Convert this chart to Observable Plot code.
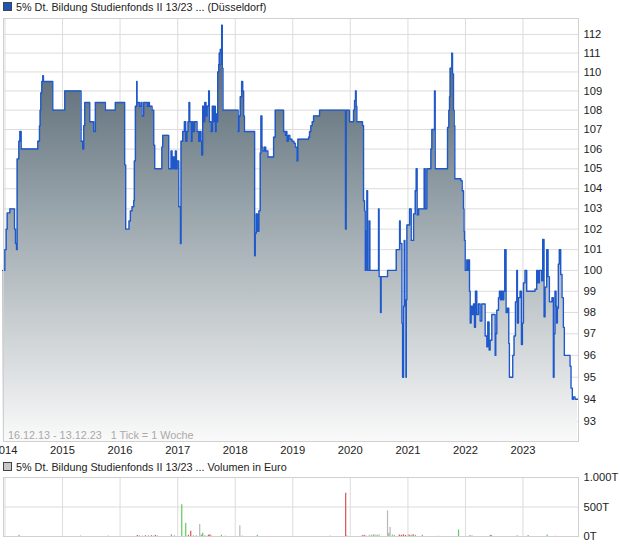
<!DOCTYPE html>
<html>
<head>
<meta charset="utf-8">
<script src="https://cdn.jsdelivr.net/npm/d3@7"></script>
<script src="https://cdn.jsdelivr.net/npm/@observablehq/plot@0.6"></script>
<style>
  html, body { margin: 0; padding: 0; background: #fff; }
  body { width: 620px; height: 546px; position: relative; overflow: hidden;
         font-family: "Liberation Sans", Arial, sans-serif; font-size: 11px; color: #222; }
  .ttl { position: absolute; left: 3px; white-space: pre; line-height: 14px; font-size: 10.8px; }
  .sq { display: inline-block; width: 7px; height: 7px; border: 1px solid #444; vertical-align: 0px; margin-right: 4px; }
  #price, #vol { position: absolute; left: 0; }
  #price { top: 18px; }
  #vol { top: 470px; }
  #cap { position: absolute; left: 8px; top: 428px; color: #a9a9a9; white-space: pre; font-size: 10.8px; line-height: 14px; }
</style>
</head>
<body>
<div class="ttl" style="top:0px"><span class="sq" style="background:#1c54b8"></span>5% Dt. Bildung Studienfonds II 13/23 ... (Düsseldorf)</div>
<div id="price"></div>
<div id="cap">16.12.13 - 13.12.23   1 Tick = 1 Woche</div>
<div class="ttl" style="top:460px"><span class="sq" style="background:#c8c8c8"></span>5% Dt. Bildung Studienfonds II 13/23 ... Volumen in Euro</div>
<div id="vol"></div>
<script>
// ---- data (dates as decimal years) ----
const priceT = [
2013.958,2013.997,2014.020,2014.038,2014.084,2014.165,2014.182,2014.200,2014.211,2014.240,2014.258,2014.281,
2014.570,2014.599,2014.611,2014.622,2014.640,2014.657,2014.668,2014.830,2015.039,2015.322,2015.351,2015.369,
2015.386,2015.473,2015.542,2015.571,2015.745,2015.918,2016.080,2016.098,2016.156,2016.179,2016.208,2016.237,
2016.248,2016.266,2016.289,2016.295,2016.335,2016.365,2016.381,2016.410,2016.470,2016.490,2016.509,2016.555,
2016.584,2016.601,2016.725,2016.740,2016.844,2016.885,2016.902,2016.920,2016.940,2016.960,2016.975,2016.990,
2017.018,2017.047,2017.058,2017.087,2017.116,2017.139,2017.162,2017.180,2017.197,2017.209,2017.232,2017.249,
2017.266,2017.290,2017.336,2017.365,2017.382,2017.405,2017.417,2017.434,2017.452,2017.470,2017.492,2017.510,
2017.538,2017.550,2017.579,2017.602,2017.625,2017.643,2017.654,2017.668,2017.683,2017.695,2017.712,2017.723,
2017.741,2017.752,2017.764,2017.775,2017.787,2018.050,2018.065,2018.088,2018.111,2018.130,2018.146,2018.160,
2018.337,2018.348,2018.366,2018.389,2018.412,2018.435,2018.447,2018.464,2018.481,2018.510,2018.530,2018.568,
2018.667,2018.696,2018.841,2018.870,2018.885,2018.898,2018.922,2018.950,2018.985,2019.020,2019.043,2019.072,
2019.089,2019.275,2019.292,2019.315,2019.339,2019.362,2019.466,2019.917,2019.929,2019.987,2020.056,2020.074,
2020.091,2020.103,2020.114,2020.212,2020.230,2020.247,2020.259,2020.275,2020.288,2020.300,2020.328,2020.340,
2020.490,2020.500,2020.525,2020.535,2020.646,2020.797,2020.855,2020.866,2020.895,2020.907,2020.924,2020.936,
2020.947,2020.965,2020.971,2020.982,2021.028,2021.057,2021.098,2021.127,2021.144,2021.160,2021.185,2021.283,
2021.300,2021.329,2021.399,2021.416,2021.462,2021.474,2021.688,2021.711,2021.723,2021.734,2021.763,2021.775,
2021.792,2021.804,2021.815,2021.920,2021.943,2021.966,2021.975,2021.983,2021.995,2022.024,2022.041,2022.053,
2022.070,2022.082,2022.099,2022.116,2022.139,2022.157,2022.174,2022.197,2022.226,2022.255,2022.284,2022.342,
2022.371,2022.388,2022.411,2022.429,2022.458,2022.516,2022.527,2022.545,2022.574,2022.591,2022.608,2022.626,
2022.649,2022.666,2022.683,2022.706,2022.730,2022.753,2022.764,2022.822,2022.845,2022.869,2022.892,2022.903,
2022.921,2022.950,2022.973,2022.990,2023.008,2023.036,2023.065,2023.210,2023.239,2023.262,2023.285,2023.326,
2023.343,2023.366,2023.384,2023.413,2023.436,2023.459,2023.505,2023.528,2023.540,2023.557,2023.575,2023.586,
2023.598,2023.615,2023.632,2023.656,2023.679,2023.702,2023.719,2023.818,2023.835,2023.858,2023.876,2023.905,
2023.951
];
const priceV = [
100.0,101.0,102.0,102.8,103.0,102.0,101.3,101.0,105.5,106.4,106.9,106.0,
106.4,107.2,108.0,108.9,109.5,109.8,109.5,108.0,109.0,106.4,106.0,107.2,
108.4,107.4,106.9,108.4,108.0,108.4,105.2,102.0,102.4,102.9,103.1,103.4,
105.4,108.2,109.5,108.4,108.2,108.4,107.7,108.4,108.2,108.4,108.2,108.0,
106.2,105.0,106.1,106.7,105.0,105.9,105.0,105.6,105.0,105.9,105.0,105.4,
103.1,101.3,106.4,106.9,107.4,106.4,106.9,107.4,108.4,107.4,106.4,107.4,
106.9,107.4,106.9,106.4,106.9,106.4,105.7,108.2,107.4,108.4,107.7,108.2,
109.0,107.4,106.9,108.2,107.4,108.2,106.9,107.8,107.4,110.0,110.4,111.0,
111.2,110.4,112.5,110.2,108.0,106.9,107.7,108.7,109.5,109.0,107.7,106.9,
100.7,101.8,102.75,101.9,102.9,105.8,107.7,106.1,105.9,106.1,105.9,105.6,
106.6,108.0,106.9,106.7,106.9,106.4,106.7,106.5,106.4,106.3,106.1,105.4,
106.5,106.6,106.9,107.2,107.4,107.7,108.0,102.0,108.0,107.4,108.0,108.5,
109.0,108.2,107.4,107.2,103.4,102.9,100.0,101.9,103.9,100.0,102.4,100.0,
103.0,99.7,98.0,99.7,100.0,101.0,102.4,101.3,97.5,95.0,98.3,101.45,
98.3,95.0,98.6,102.2,103.0,101.45,102.75,103.9,105.0,102.7,103.0,105.0,
103.0,105.0,106.0,107.0,109.0,105.0,107.1,108.0,108.7,110.2,111.0,109.9,
108.0,107.2,104.5,104.4,103.9,103.0,101.9,101.45,100.0,100.5,100.0,100.5,
99.0,97.5,98.3,97.9,98.4,97.3,99.0,97.9,98.4,97.6,98.4,96.9,
96.4,97.55,96.25,96.7,97.9,96.0,97.0,98.1,98.7,99.0,98.6,99.0,
98.6,99.0,101.0,98.0,98.2,96.55,95.0,96.0,96.9,98.5,100.0,97.5,
98.7,99.0,96.5,97.5,99.4,100.0,99.0,99.1,100.0,99.4,100.0,99.5,
101.5,97.8,99.2,101.0,99.7,98.5,98.7,95.0,97.0,99.0,98.3,97.5,
98.2,100.3,101.0,99.8,98.7,97.3,96.0,95.5,94.5,94.0,94.1,94.0,
94.0
];
// volume in thousand euro; colour class: g = up, r = down, n = unchanged
const volT = [2014.245,2015.311,2015.797,2016.300,2016.335,2016.387,2016.440,2016.490,2016.543,2016.578,2016.613,2016.648,
2016.890,2016.940,2017.070,2017.139,2017.186,2017.226,2017.273,2017.325,2017.382,2017.410,2017.434,2017.472,2017.533,2017.560,
2017.585,2017.759,2017.830,2018.080,2018.123,2018.384,2019.650,2019.920,2019.945,2020.207,2020.240,2020.270,2020.330,2020.365,
2020.400,2020.430,2020.465,2020.500,2020.646,2020.670,2020.690,2020.730,2020.765,2020.850,2020.885,2020.920,2020.955,2020.990,
2021.020,2021.055,2021.090,2021.130,2021.250,2021.530,2021.880,2022.080,2022.115,2022.430,2022.447,2022.900,2023.090,2023.420,2023.560];
const volV = [20,10,10,15,10,8,12,10,14,10,20,12,
30,8,538,219,20,87,10,15,203,25,54,15,20,30,
10,20,8,181,5,20,8,731,10,12,20,10,20,25,
25,28,20,30,434,54,154,30,15,25,20,30,15,10,
25,20,30,20,20,5,109,15,10,22,15,10,18,25,5];
const volC = ["g","n","n","r","r","n","r","r","r","n","r","n",
"g","r","g","g","r","r","g","n","n","g","g","n","r","r",
"n","g","n","n","r","g","n","r","g","r","r","g","n","n",
"g","n","g","n","n","g","n","n","g","r","r","r","r","n",
"r","g","r","g","g","n","g","g","g","g","r","r","g","g","n"];
const yTicks = [93,94,95,96,97,98,99,100,101,102,103,104,105,106,107,108,109,110,111,112];
const years = [2014,2015,2016,2017,2018,2019,2020,2021,2022,2023];
const volTicks = [0,500,1000];
const volLabels = {0: "0T", 500: "500T", 1000: "1.000T"};

// ---- helpers ----
function toDate(t) {
  const y = Math.floor(t), f = t - y;
  const a = Date.UTC(y, 0, 1), b = Date.UTC(y + 1, 0, 1);
  return new Date(a + f * (b - a));
}
const start = new Date(Date.UTC(2013, 11, 16));
const end = new Date(Date.UTC(2023, 11, 13));
const prices = priceT.map((t, i) => ({date: toDate(t), price: priceV[i]}));
const vols = volT.map((t, i) => ({date: toDate(t), vol: volV[i], c: volC[i]}));
const yearDates = years.map(y => new Date(Date.UTC(y, 0, 1)));
const yLo = 92.11, yHi = 112.86;
const gridColor = "#dcdcdc";
const font = {fontFamily: "'Liberation Sans', Arial, sans-serif", fontSize: "11.2px", background: "transparent", color: "#222", overflow: "hidden"};

const price = Plot.plot({
  width: 620, height: 439,
  marginLeft: 3, marginRight: 42, marginTop: 0, marginBottom: 16,
  style: font,
  x: {type: "utc", domain: [start, end], range: [2, 577], ticks: yearDates,
      tickFormat: d3.utcFormat("%Y"), tickSize: 0, tickPadding: 5, label: null},
  y: {type: "log", domain: [yLo, yHi], range: [423, 0], axis: "right", ticks: yTicks,
      tickFormat: d => String(d), tickSize: 0, tickPadding: 5, label: null},
  marks: [
    Plot.ruleY(yTicks, {stroke: gridColor, strokeWidth: 1}),
    Plot.ruleX(yearDates, {stroke: gridColor, strokeWidth: 1}),
    Plot.areaY(prices, {x: "date", y1: () => yLo, y2: "price", curve: "step-after", fill: "url(#pgrad)"}),
    Plot.line(prices, {x: "date", y: "price", curve: "step-after", stroke: "#1f59c9", strokeWidth: 1.4}),
    Plot.frame({stroke: "#d0d0d0"})
  ]
});
// gradient for the area
const svgP = d3.select(price);
const defs = svgP.insert("defs", ":first-child");
const g = defs.append("linearGradient").attr("id", "pgrad")
  .attr("gradientUnits", "userSpaceOnUse").attr("x1", 0).attr("x2", 0).attr("y1", 0).attr("y2", 423);
[[0, "#54636d"], [0.2, "#6b7a84"], [0.45, "#98a4ab"], [0.7, "#c5cbce"], [1, "#fafafa"]]
  .forEach(([o, c]) => g.append("stop").attr("offset", o).attr("stop-color", c));
document.getElementById("price").appendChild(price);

const colorMap = {g: "#5ccc5c", r: "#dd5050", n: "#b8b8b8"};
const vol = Plot.plot({
  width: 620, height: 76,
  marginLeft: 3, marginRight: 42, marginTop: 7, marginBottom: 10,
  style: font,
  x: {type: "utc", domain: [start, end], range: [2, 577], axis: null},
  y: {domain: [0, 1000], range: [66, 7], axis: "right", ticks: volTicks,
      tickFormat: d => volLabels[d], tickSize: 0, tickPadding: 5, label: null},
  marks: [
    Plot.ruleY([500], {stroke: gridColor}),
    Plot.ruleX(yearDates, {stroke: gridColor}),
    Plot.ruleX(vols, {x: "date", y1: 0, y2: "vol", stroke: d => colorMap[d.c], strokeWidth: 1.2}),
    Plot.frame({stroke: "#d0d0d0"})
  ]
});
document.getElementById("vol").appendChild(vol);
</script>
</body>
</html>
